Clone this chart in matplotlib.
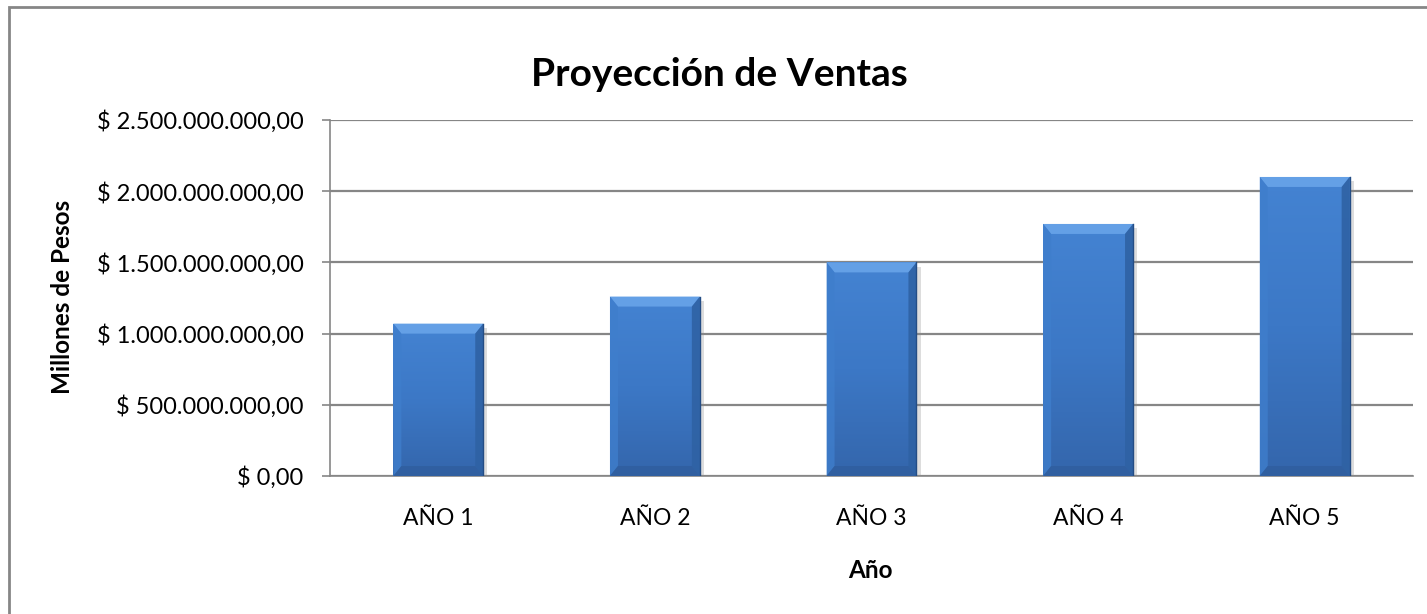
import numpy as np
import matplotlib
matplotlib.use('Agg')
import matplotlib.pyplot as plt
import matplotlib.patheffects as pe
from matplotlib.patches import Polygon, Rectangle
from matplotlib.ticker import FuncFormatter
from matplotlib.colors import LinearSegmentedColormap

# datos
anios = ['AÑO 1', 'AÑO 2', 'AÑO 3', 'AÑO 4', 'AÑO 5']
ventas = [1.07e9, 1.26e9, 1.50e9, 1.77e9, 2.10e9]
yticks = [0, 5e8, 1e9, 1.5e9, 2e9, 2.5e9]


def pesos(v, pos):
    s = '{:,.2f}'.format(v).replace(',', 'X').replace('.', ',').replace('X', '.')
    return '$ ' + s


plt.rcParams['font.family'] = ['Lato', 'DejaVu Sans']
W, H = 1427, 614
fig = plt.figure(figsize=(W / 100, H / 100), dpi=100)
ax = fig.add_axes([330 / W, 1 - 476 / H, (1413 - 330) / W, (476 - 120) / H])

x = np.arange(len(anios))
ancho = 0.415
ax.set_xlim(-0.5, len(anios) - 0.5)
ax.set_ylim(0, 2.5e9)

gris = '#868686'
ax.set_yticks(yticks)
ax.yaxis.set_major_formatter(FuncFormatter(pesos))
ax.set_xticks(x)
ax.set_xticklabels(anios)
ax.grid(axis='y', color=gris, lw=1.6, zorder=0)
ax.set_axisbelow(True)
for s in ['top', 'right']:
    ax.spines[s].set_visible(False)
for s in ['left', 'bottom']:
    ax.spines[s].set_color(gris)
    ax.spines[s].set_linewidth(1.2)
ax.tick_params(axis='y', length=6, color=gris, width=1.2, pad=13, labelsize=17, labelcolor='black')
ax.tick_params(axis='x', length=0, pad=23, labelsize=16.5, labelcolor='black')

sombra = [pe.SimplePatchShadow(offset=(3, -3), shadow_rgbFace='#8f8f8f', alpha=0.3), pe.Normal()]
barras = ax.bar(x, ventas, width=ancho, color='#3b78c6', zorder=3, path_effects=sombra)

# tamaño del bisel en unidades de datos
inv = ax.transData.inverted()
p0 = inv.transform((0, 0))
p1 = inv.transform((8, 10))
bx, by = p1 - p0

grad = np.linspace(0, 1, 100).reshape(-1, 1)
cmap = LinearSegmentedColormap.from_list('azul', ['#3466ac', '#3c78c6', '#4483d2'])

for b in barras:
    x0 = b.get_x()
    x1 = x0 + b.get_width()
    h = b.get_height()
    im = ax.imshow(grad, cmap=cmap, extent=[x0, x1, 0, h], origin='lower',
                   aspect='auto', zorder=4)
    im.set_clip_path(b)
    cara = dict(zorder=5, lw=0)
    ax.add_patch(Polygon([(x0, h), (x1, h), (x1 - bx, h - by), (x0 + bx, h - by)],
                         fc='#64a0e6', **cara))
    ax.add_patch(Polygon([(x0, 0), (x0, h), (x0 + bx, h - by), (x0 + bx, by)],
                         fc='#3f7ecc', alpha=0.8, **cara))
    ax.add_patch(Polygon([(x1, 0), (x1, h), (x1 - bx, h - by), (x1 - bx, by)],
                         fc='#2f62a4', alpha=0.9, **cara))
    ax.add_patch(Polygon([(x0, 0), (x1, 0), (x1 - bx, by), (x0 + bx, by)],
                         fc='#2f5e9e', alpha=0.8, **cara))
    ax.plot([x1, x1], [0, h], color='#244d85', lw=1, zorder=6)

ax.set_xlim(-0.5, len(anios) - 0.5)
ax.set_ylim(0, 2.5e9)

fig.text(719 / W, 1 - 75 / H, 'Proyección de Ventas', ha='center', va='center',
         fontsize=28, fontweight='bold')
fig.text(62 / W, 1 - 297 / H, 'Millones de Pesos', ha='center', va='center',
         rotation=90, fontsize=17.5, fontweight='bold')
fig.text(870 / W, 1 - 571 / H, 'Año', ha='center', va='center',
         fontsize=17.5, fontweight='bold')

fig.patches.append(Rectangle((9 / W, -0.1), 1.2, 1 - 7 / H + 0.1, transform=fig.transFigure,
                             fill=False, ec=gris, lw=2))

fig.savefig('out.png', dpi=100)
